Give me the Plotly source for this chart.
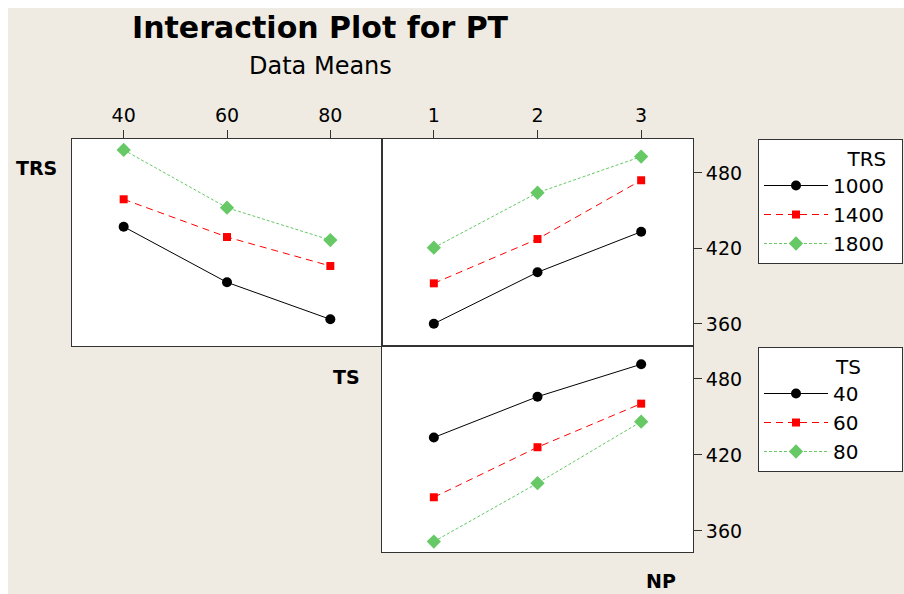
import plotly.graph_objects as go

# ---- data ----
TS_levels = [40, 60, 80]
NP_levels = [1, 2, 3]
TRS_names = ["1000", "1400", "1800"]
TS_names = ["40", "60", "80"]

# TRS x TS means (top-left panel)
trs_ts_1000 = [437.3, 393.1, 363.7]
trs_ts_1400 = [459.1, 429.1, 406.1]
trs_ts_1800 = [498.3, 452.4, 426.7]

# TRS x NP means (top-right panel)
trs_np_1000 = [360.2, 401.1, 433.3]
trs_np_1400 = [392.3, 427.5, 474.2]
trs_np_1800 = [420.6, 464.3, 493.0]

# TS x NP means (bottom-right panel)
ts_np_40 = [433.8, 466.0, 491.6]
ts_np_60 = [386.6, 426.1, 460.5]
ts_np_80 = [351.6, 397.7, 446.3]

y_ticks = [360, 420, 480]

W, H = 904, 594
OFF = 8  # page body margin
BG = "#EFEBE2"
FONT = "DejaVu Sans"
NB = "\u00a0"

def px(x):
    return (x - OFF) / W

def py(y):
    return 1 - (y - OFF) / H

styles = [
    dict(color="black", dash="solid", symbol="circle", size=10),
    dict(color="#FF0000", dash="7px,5px", symbol="square", size=8),
    dict(color="#66C966", dash="3px,2px", symbol="diamond", size=11),
]

fig = go.Figure()

def add_group(xvals, series, names, xa, ya, legend, show, pad):
    for vals, name, st in zip(series, names, styles):
        fig.add_trace(go.Scatter(
            x=xvals, y=vals, name=name + NB * pad, mode="lines+markers",
            xaxis=xa, yaxis=ya, legend=legend, showlegend=show,
            line=dict(color=st["color"], dash=st["dash"], width=1),
            marker=dict(color=st["color"], symbol=st["symbol"], size=st["size"]),
        ))

PAD1, PAD2 = 2, 6
add_group(TS_levels, [trs_ts_1000, trs_ts_1400, trs_ts_1800], TRS_names, "x", "y", "legend", True, PAD1)
add_group(NP_levels, [trs_np_1000, trs_np_1400, trs_np_1800], TRS_names, "x2", "y2", "legend", False, PAD1)
add_group(NP_levels, [ts_np_40, ts_np_60, ts_np_80], TS_names, "x3", "y3", "legend2", True, PAD2)

ax_common = dict(showline=True, mirror=True, linecolor="#333333", linewidth=1,
                 showgrid=False, zeroline=False,
                 tickfont=dict(family=FONT, size=19, color="black"))

top_dom = [py(346), py(139)]
bot_dom = [py(552), py(346)]
left_dom = [px(72), px(382)]
right_dom = [px(382), px(693)]

fig.update_layout(
    width=W, height=H,
    margin=dict(l=0, r=0, t=0, b=0, autoexpand=False),
    paper_bgcolor=BG, plot_bgcolor="white",
    xaxis=dict(domain=left_dom, range=[30, 90], side="top", anchor="y",
               tickvals=TS_levels, ticks="outside", ticklen=8, tickcolor="#333333", **ax_common),
    yaxis=dict(domain=top_dom, range=[342.5, 507], anchor="x",
               showticklabels=False, ticks="", **ax_common),
    xaxis2=dict(domain=right_dom, range=[0.5, 3.5], side="top", anchor="y2",
                tickvals=NP_levels, ticks="outside", ticklen=8, tickcolor="#333333", **ax_common),
    yaxis2=dict(domain=top_dom, range=[342.5, 507], side="right", anchor="x2",
                tickvals=y_ticks, ticks="outside", ticklen=8, tickcolor="#333333", **ax_common),
    xaxis3=dict(domain=right_dom, range=[0.5, 3.5], anchor="y3",
                showticklabels=False, ticks="", **ax_common),
    yaxis3=dict(domain=bot_dom, range=[343.4, 506], side="right", anchor="x3",
                tickvals=y_ticks, ticks="outside", ticklen=8, tickcolor="#333333", **ax_common),
    legend=dict(x=px(758), y=py(139), xanchor="left", yanchor="top",
                bgcolor="white", bordercolor="#333333", borderwidth=1,
                font=dict(family=FONT, size=20, color="black"),
                title=dict(text="TRS" + NB * PAD1, side="top right", font=dict(family=FONT, size=20)),
                itemwidth=64),
    legend2=dict(x=px(758), y=py(347), xanchor="left", yanchor="top",
                 bgcolor="white", bordercolor="#333333", borderwidth=1,
                 font=dict(family=FONT, size=20, color="black"),
                 title=dict(text="TS" + NB * PAD2, side="top right", font=dict(family=FONT, size=20)),
                 itemwidth=64),
)

annots = [
    dict(text="<b>Interaction Plot for PT</b>", x=px(320), y=py(27), size=30),
    dict(text="Data Means", x=px(320), y=py(66), size=24),
    dict(text="<b>TRS</b>", x=px(36), y=py(168), size=19),
    dict(text="<b>TS</b>", x=px(346), y=py(377), size=19),
    dict(text="<b>NP</b>", x=px(661), y=py(581), size=19),
]
for a in annots:
    fig.add_annotation(text=a["text"], x=a["x"], y=a["y"], xref="paper", yref="paper",
                       showarrow=False, xanchor="center", yanchor="middle",
                       font=dict(family=FONT, size=a["size"], color="black"))

fig.write_html(
    "out.html",
    post_script="document.body.style.margin='8px 0 0 8px';document.body.style.overflow='hidden';",
)
